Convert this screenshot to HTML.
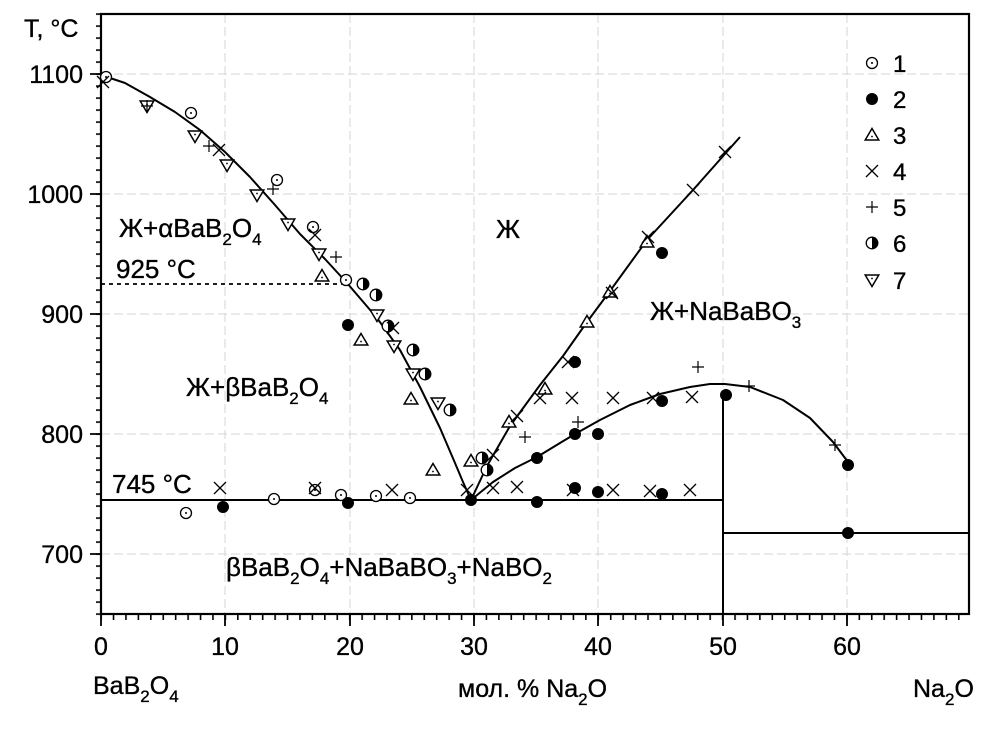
<!DOCTYPE html>
<html><head><meta charset="utf-8">
<style>
html,body{margin:0;padding:0;background:#fff;}
svg{display:block;}
text{font-family:"Liberation Sans","DejaVu Sans",sans-serif;fill:#000;stroke:#000;stroke-width:0.35px;}
</style></head>
<body>
<svg width="1000" height="736" viewBox="0 0 1000 736" xmlns="http://www.w3.org/2000/svg">
<defs>
<pattern id="yt" patternUnits="userSpaceOnUse" x="0" y="13.3" width="20" height="12"><rect x="0" y="0" width="20" height="1.6" fill="#000"/></pattern>
<pattern id="xt" patternUnits="userSpaceOnUse" x="100.3" y="0" width="12.43" height="20"><rect x="0" y="0" width="1.6" height="20" fill="#000"/></pattern>
<g id="m1"><circle r="5.5" fill="#fff" stroke="#000" stroke-width="1.3"/><circle r="1" fill="#000"/></g>
<g id="m2"><circle r="6" fill="#000"/></g>
<g id="m3"><polygon points="0,-6.5 6.8,5 -6.8,5" fill="#fff" stroke="#000" stroke-width="1.5"/><circle cy="1.5" r="0.9" fill="#000"/></g>
<g id="m4"><path d="M-6,-6L6,6M-6,6L6,-6" stroke="#000" stroke-width="1.3" fill="none"/></g>
<g id="m5"><path d="M-6,0H6M0,-6V6" stroke="#000" stroke-width="1.2" fill="none"/></g>
<g id="m6"><circle r="5.8" fill="#fff" stroke="#000" stroke-width="1.3"/><path d="M0,-5.8A5.8,5.8 0 0 1 0,5.8Z" fill="#000"/></g>
<g id="m7"><polygon points="-6.8,-5 6.8,-5 0,6.5" fill="#fff" stroke="#000" stroke-width="1.5"/><circle cy="-1.5" r="0.9" fill="#000"/></g>
</defs>

<!-- grid -->
<g stroke="#d6d6d6" stroke-width="1" stroke-dasharray="9,4" fill="none">
<path d="M225,14V614M350,14V614M474,14V614M598,14V614M723,14V614M847,14V614"/>
<path d="M101,554H969M101,434H969M101,314H969M101,194H969M101,74H969"/>
</g>

<!-- ticks -->
<rect x="96" y="13" width="6" height="603" fill="url(#yt)"/>
<rect x="100" y="614" width="860" height="6" fill="url(#xt)"/>
<g stroke="#000" stroke-width="1.8">
<path d="M90,74H101M90,194H101M90,314H101M90,434H101M90,554H101"/>
<path d="M101,614V626M225,614V626M350,614V626M474,614V626M598,614V626M723,614V626M847,614V626"/>
</g>

<!-- frame -->
<rect x="101" y="14" width="868" height="600" fill="none" stroke="#000" stroke-width="2.2"/>

<!-- lines -->
<g fill="none" stroke="#000" stroke-width="2" stroke-linejoin="round">
<polyline points="101,75 125,83 150,97 175,112 200,130 225,152 250,177 275,205 300,234 325,259 347,283 377,318 400,350 420,387 440,428 455,463 463,482 471,500"/>
<polyline points="471,500 487,466 510,426 540,385 563,356 587,322 610,291 647,240 693,190 740,137"/>
<polyline points="471,500 493,482 515,468 537,457 560,443 575,434 600,420 630,405 660,394 690,387 710,384 725,384 750,387 783,400 810,418 833,442 848,462"/>
<path d="M101,500H723"/>
<path d="M723,395V614"/>
<path d="M723,533H969"/>
</g>
<path d="M101,284H342" stroke="#000" stroke-width="1.7" stroke-dasharray="4,4" fill="none"/>

<!-- series 1 -->
<use href="#m1" x="106" y="77"/><use href="#m1" x="191" y="113"/><use href="#m1" x="277" y="180"/><use href="#m1" x="313" y="227"/><use href="#m1" x="346" y="280"/><use href="#m1" x="186" y="513"/><use href="#m1" x="274" y="499"/><use href="#m1" x="315" y="490"/><use href="#m1" x="341" y="495"/><use href="#m1" x="376" y="496"/><use href="#m1" x="410" y="498"/>
<!-- series 7 -->
<use href="#m7" x="147" y="106"/><use href="#m7" x="195" y="136"/><use href="#m7" x="227" y="165"/><use href="#m7" x="257" y="195"/><use href="#m7" x="288" y="224"/><use href="#m7" x="319" y="254"/><use href="#m7" x="377" y="315"/><use href="#m7" x="394" y="346"/><use href="#m7" x="413" y="374"/><use href="#m7" x="438" y="403"/>
<!-- series 3 -->
<use href="#m3" x="322" y="276"/><use href="#m3" x="361" y="340"/><use href="#m3" x="411" y="399"/><use href="#m3" x="433" y="470"/><use href="#m3" x="471" y="461"/><use href="#m3" x="509" y="422"/><use href="#m3" x="545" y="389"/><use href="#m3" x="587" y="322"/><use href="#m3" x="610" y="292"/><use href="#m3" x="647" y="242"/>
<!-- series 6 -->
<use href="#m6" x="363" y="284"/><use href="#m6" x="376" y="295"/><use href="#m6" x="388" y="326"/><use href="#m6" x="413" y="350"/><use href="#m6" x="425" y="374"/><use href="#m6" x="450" y="410"/><use href="#m6" x="482" y="458"/><use href="#m6" x="487" y="470"/>
<!-- series 2 -->
<use href="#m2" x="223" y="507"/><use href="#m2" x="348" y="325"/><use href="#m2" x="348" y="503"/><use href="#m2" x="471" y="500"/><use href="#m2" x="537" y="458"/><use href="#m2" x="537" y="502"/><use href="#m2" x="575" y="362"/><use href="#m2" x="575" y="434"/><use href="#m2" x="598" y="434"/><use href="#m2" x="575" y="488"/><use href="#m2" x="598" y="492"/><use href="#m2" x="662" y="401"/><use href="#m2" x="662" y="494"/><use href="#m2" x="662" y="253"/><use href="#m2" x="726" y="395"/><use href="#m2" x="848" y="465"/><use href="#m2" x="848" y="533"/>
<!-- series 4 -->
<use href="#m4" x="103" y="82"/><use href="#m4" x="219" y="150"/><use href="#m4" x="315" y="235"/><use href="#m4" x="220" y="488"/><use href="#m4" x="315" y="488"/><use href="#m4" x="393" y="328"/><use href="#m4" x="392" y="490"/><use href="#m4" x="467" y="490"/><use href="#m4" x="493" y="488"/><use href="#m4" x="517" y="487"/><use href="#m4" x="573" y="490"/><use href="#m4" x="613" y="490"/><use href="#m4" x="650" y="491"/><use href="#m4" x="690" y="490"/><use href="#m4" x="493" y="455"/><use href="#m4" x="517" y="416"/><use href="#m4" x="540" y="398"/><use href="#m4" x="572" y="398"/><use href="#m4" x="613" y="398"/><use href="#m4" x="653" y="398"/><use href="#m4" x="692" y="397"/><use href="#m4" x="568" y="362"/><use href="#m4" x="725" y="152"/><use href="#m4" x="693" y="190"/><use href="#m4" x="648" y="237"/><use href="#m4" x="612" y="293"/>
<!-- series 5 -->
<use href="#m5" x="147" y="106"/><use href="#m5" x="209" y="146"/><use href="#m5" x="273" y="189"/><use href="#m5" x="336" y="257"/><use href="#m5" x="525" y="437"/><use href="#m5" x="578" y="422"/><use href="#m5" x="698" y="367"/><use href="#m5" x="749" y="386"/><use href="#m5" x="835" y="445"/>

<!-- legend -->
<use href="#m1" x="872" y="63"/><use href="#m2" x="872" y="99"/><use href="#m3" x="872" y="135"/><use href="#m4" x="872" y="171"/><use href="#m5" x="872" y="207"/><use href="#m6" x="872" y="243"/><use href="#m7" x="872" y="280"/>
<g font-size="24">
<text x="893" y="72">1</text><text x="893" y="108">2</text><text x="893" y="144">3</text><text x="893" y="180">4</text><text x="893" y="216">5</text><text x="893" y="252">6</text><text x="893" y="289">7</text>
</g>

<!-- axis labels -->
<g font-size="25">
<text x="24" y="37">T, °C</text>
<g text-anchor="end">
<text x="83" y="83">1100</text><text x="83" y="203">1000</text><text x="83" y="323">900</text><text x="83" y="443">800</text><text x="83" y="563">700</text>
</g>
<g text-anchor="middle">
<text x="101" y="655">0</text><text x="225" y="655">10</text><text x="350" y="655">20</text><text x="474" y="655">30</text><text x="598" y="655">40</text><text x="723" y="655">50</text><text x="847" y="655">60</text>
</g>
<text x="93" y="694">BaB<tspan dy="8" font-size="17">2</tspan><tspan dy="-8">O</tspan><tspan dy="8" font-size="17">4</tspan></text>
<text x="458" y="697">мол. % Na<tspan dy="8" font-size="17">2</tspan><tspan dy="-8">O</tspan></text>
<text x="913" y="697">Na<tspan dy="8" font-size="17">2</tspan><tspan dy="-8">O</tspan></text>
</g>

<!-- region labels -->
<g font-size="26">
<text x="119" y="237">Ж+αBaB<tspan dy="8" font-size="17">2</tspan><tspan dy="-8">O</tspan><tspan dy="8" font-size="17">4</tspan></text>
<text x="116" y="278">925 °C</text>
<text x="186" y="396">Ж+βBaB<tspan dy="8" font-size="17">2</tspan><tspan dy="-8">O</tspan><tspan dy="8" font-size="17">4</tspan></text>
<text x="496" y="238">Ж</text>
<text x="650" y="320">Ж+NaBaBO<tspan dy="8" font-size="17">3</tspan></text>
<text x="112" y="493">745 °C</text>
<text x="226" y="576">βBaB<tspan dy="8" font-size="17">2</tspan><tspan dy="-8">O</tspan><tspan dy="8" font-size="17">4</tspan><tspan dy="-8">+NaBaBO</tspan><tspan dy="8" font-size="17">3</tspan><tspan dy="-8">+NaBO</tspan><tspan dy="8" font-size="17">2</tspan></text>
</g>
</svg>
</body></html>
